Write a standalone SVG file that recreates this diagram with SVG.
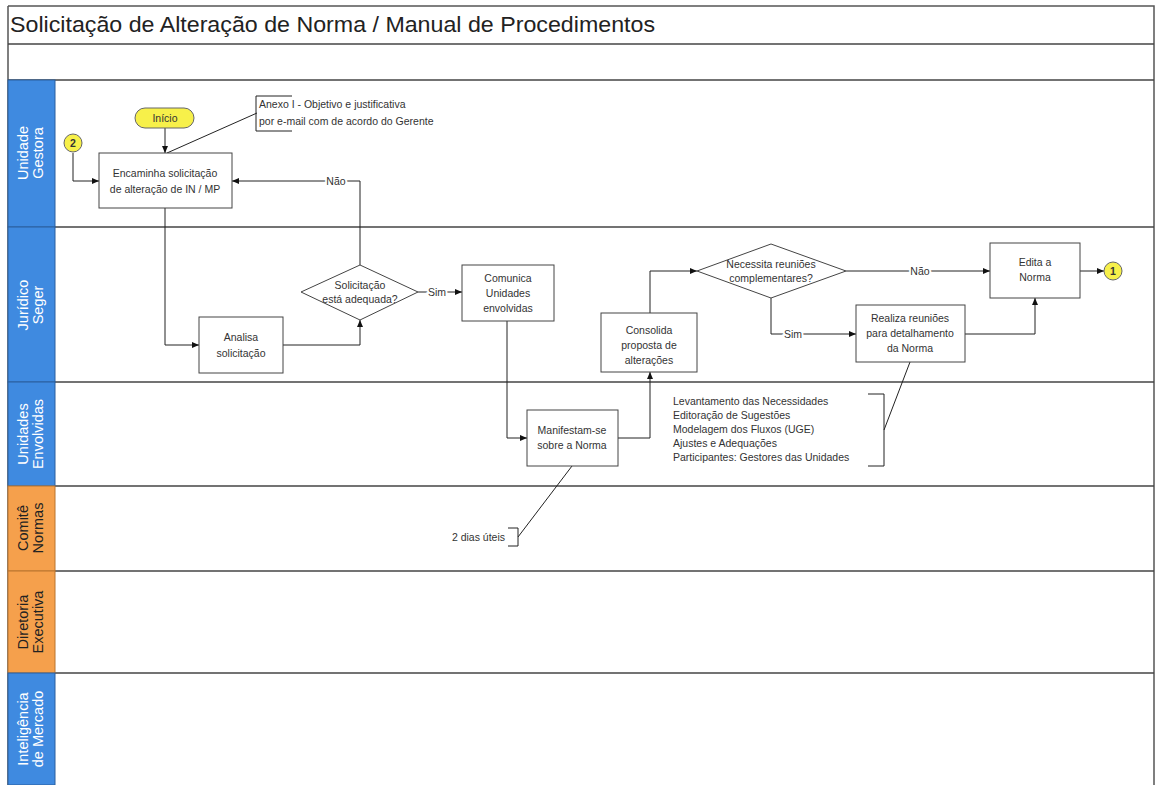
<svg xmlns="http://www.w3.org/2000/svg" width="1156" height="785" viewBox="0 0 1156 785">
<defs>
<marker id="arr" markerWidth="8" markerHeight="8" refX="7" refY="4" orient="auto" markerUnits="userSpaceOnUse">
<path d="M0,1 L7,4 L0,7 Z" fill="#111"/>
</marker>
<style>
.frame{fill:none;stroke:#555;stroke-width:1.5}
.lane{stroke:#444;stroke-width:1.5}
.hb{fill:#3f8ae0;stroke:#2a5f9e;stroke-width:1}
.ho{fill:#f5a04c;stroke:#b9742f;stroke-width:1}
.ht{font-family:"Liberation Sans",Arial,sans-serif;font-size:14.5px;text-anchor:middle;fill:#fff}
.hto{font-family:"Liberation Sans",Arial,sans-serif;font-size:14.5px;text-anchor:middle;fill:#222}
.box{fill:#fff;stroke:#444;stroke-width:1}
.t{font-family:"Liberation Sans",Arial,sans-serif;font-size:10.5px;fill:#333;text-anchor:middle}
.tl{font-family:"Liberation Sans",Arial,sans-serif;font-size:10.5px;fill:#333}
.c{fill:none;stroke:#222;stroke-width:1}
.lbl{font-family:"Liberation Sans",Arial,sans-serif;font-size:10.5px;fill:#333;text-anchor:middle;stroke:#fff;stroke-width:4;paint-order:stroke}
.y{fill:#f7f04a;stroke:#666;stroke-width:1}
</style>
</defs>
<rect width="1156" height="785" fill="#fff"/>
<g id="frame">
<path class="frame" d="M8,6 H1154 V785 M8,6 V785"/>
<line class="lane" x1="8" y1="44" x2="1154" y2="44"/>
<line class="lane" x1="8" y1="80" x2="1154" y2="80"/>
<line class="lane" x1="8" y1="227" x2="1154" y2="227"/>
<line class="lane" x1="8" y1="382" x2="1154" y2="382"/>
<line class="lane" x1="8" y1="486" x2="1154" y2="486"/>
<line class="lane" x1="8" y1="571" x2="1154" y2="571"/>
<line class="lane" x1="8" y1="673" x2="1154" y2="673"/>
<text x="10" y="32" font-family="Liberation Sans,Arial,sans-serif" font-size="22" fill="#222" textLength="645" lengthAdjust="spacingAndGlyphs">Solicitação de Alteração de Norma / Manual de Procedimentos</text>
</g>
<g id="lane-headers">
<rect class="hb" x="8" y="80" width="47" height="147"/>
<rect class="hb" x="8" y="227" width="47" height="155"/>
<rect class="hb" x="8" y="382" width="47" height="104"/>
<rect class="ho" x="8" y="486" width="47" height="85"/>
<rect class="ho" x="8" y="571" width="47" height="102"/>
<rect class="hb" x="8" y="673" width="47" height="112"/>
<g transform="translate(31,153) rotate(-90)"><text class="ht" x="0" y="-3">Unidade</text><text class="ht" x="0" y="12">Gestora</text></g>
<g transform="translate(31,305) rotate(-90)"><text class="ht" x="0" y="-3">Jurídico</text><text class="ht" x="0" y="12">Seger</text></g>
<g transform="translate(31,434) rotate(-90)"><text class="ht" x="0" y="-3">Unidades</text><text class="ht" x="0" y="12">Envolvidas</text></g>
<g transform="translate(31,528) rotate(-90)"><text class="hto" x="0" y="-3">Comitê</text><text class="hto" x="0" y="12">Normas</text></g>
<g transform="translate(31,622) rotate(-90)"><text class="hto" x="0" y="-3">Diretoria</text><text class="hto" x="0" y="12">Executiva</text></g>
<g transform="translate(31,729) rotate(-90)"><text class="ht" x="0" y="-3">Inteligência</text><text class="ht" x="0" y="12">de Mercado</text></g>
</g>
<g id="connectors">
<path class="c" d="M165,128 V153" marker-end="url(#arr)"/>
<path class="c" d="M73,153 V181 H99" marker-end="url(#arr)"/>
<path class="c" d="M167,153 L257,113"/>
<path class="c" d="M360,265 V181 H232" marker-end="url(#arr)"/>
<path class="c" d="M165,208 V345 H199" marker-end="url(#arr)"/>
<path class="c" d="M283,345 H360 V320" marker-end="url(#arr)"/>
<path class="c" d="M418,292 H462" marker-end="url(#arr)"/>
<path class="c" d="M507,321 V438 H527" marker-end="url(#arr)"/>
<path class="c" d="M618,438 H650 V372" marker-end="url(#arr)"/>
<path class="c" d="M650,313 V271 H697" marker-end="url(#arr)"/>
<path class="c" d="M846,271 H990" marker-end="url(#arr)"/>
<path class="c" d="M1080,271 H1104" marker-end="url(#arr)"/>
<path class="c" d="M771,298 V334 H856" marker-end="url(#arr)"/>
<path class="c" d="M965,334 H1035 V298" marker-end="url(#arr)"/>
<path class="c" d="M910,362 L884,430"/>
<path class="c" d="M572,466 L518,537"/>
<text class="lbl" x="336" y="185">Não</text>
<text class="lbl" x="437" y="296">Sim</text>
<text class="lbl" x="920" y="275">Não</text>
<text class="lbl" x="793" y="338">Sim</text>
</g>
<g id="inicio"><rect class="y" x="135" y="108" width="59" height="20" rx="10"/><text class="t" x="165" y="122">Início</text></g>
<g id="conector-2"><circle class="y" cx="73" cy="143" r="9"/><text class="t" x="73" y="147" font-weight="bold" font-size="9">2</text></g>
<g id="anexo"><path class="c" d="M292,96 H256 V131 H292"/><text class="tl" x="259" y="108">Anexo I - Objetivo e justificativa</text><text class="tl" x="259" y="125">por e-mail com de acordo do Gerente</text></g>
<g id="encaminha"><rect class="box" x="99" y="153" width="133" height="55"/><text class="t" x="165" y="177">Encaminha solicitação</text><text class="t" x="165" y="193">de alteração de IN / MP</text></g>
<g id="analisa"><rect class="box" x="199" y="317" width="84" height="56"/><text class="t" x="241" y="341">Analisa</text><text class="t" x="241" y="357">solicitação</text></g>
<g id="adequada"><polygon class="box" points="301,292 360,265 418,292 360,320"/><text class="t" x="360" y="289">Solicitação</text><text class="t" x="360" y="303">está adequada?</text></g>
<g id="comunica"><rect class="box" x="462" y="265" width="92" height="56"/><text class="t" x="508" y="282">Comunica</text><text class="t" x="508" y="297">Unidades</text><text class="t" x="508" y="312">envolvidas</text></g>
<g id="manifestam"><rect class="box" x="527" y="410" width="91" height="56"/><text class="t" x="572" y="434">Manifestam-se</text><text class="t" x="572" y="449">sobre a Norma</text></g>
<g id="consolida"><rect class="box" x="601" y="313" width="96" height="59"/><text class="t" x="649" y="334">Consolida</text><text class="t" x="649" y="349">proposta de</text><text class="t" x="649" y="364">alterações</text></g>
<g id="necessita"><polygon class="box" points="697,271 771,244 846,271 771,298"/><text class="t" x="771" y="268">Necessita reuniões</text><text class="t" x="771" y="282">complementares?</text></g>
<g id="edita"><rect class="box" x="990" y="243" width="90" height="55"/><text class="t" x="1035" y="266">Edita a</text><text class="t" x="1035" y="281">Norma</text></g>
<g id="conector-1"><circle class="y" cx="1113" cy="271" r="9"/><text class="t" x="1113" y="275" font-weight="bold" font-size="9">1</text></g>
<g id="realiza"><rect class="box" x="856" y="305" width="109" height="57"/><text class="t" x="910" y="322">Realiza reuniões</text><text class="t" x="910" y="337">para detalhamento</text><text class="t" x="910" y="352">da Norma</text></g>
<g id="lista"><path class="c" d="M868,394 H884 V466 H868"/><text class="tl" x="673" y="405">Levantamento das Necessidades</text><text class="tl" x="673" y="419">Editoração de Sugestões</text><text class="tl" x="673" y="433">Modelagem dos Fluxos (UGE)</text><text class="tl" x="673" y="447">Ajustes e Adequações</text><text class="tl" x="673" y="461">Participantes: Gestores das Unidades</text></g>
<g id="prazo"><path class="c" d="M508,528 H518 V546 H508"/><text class="tl" x="505" y="541" text-anchor="end">2 dias úteis</text></g>
</svg>
